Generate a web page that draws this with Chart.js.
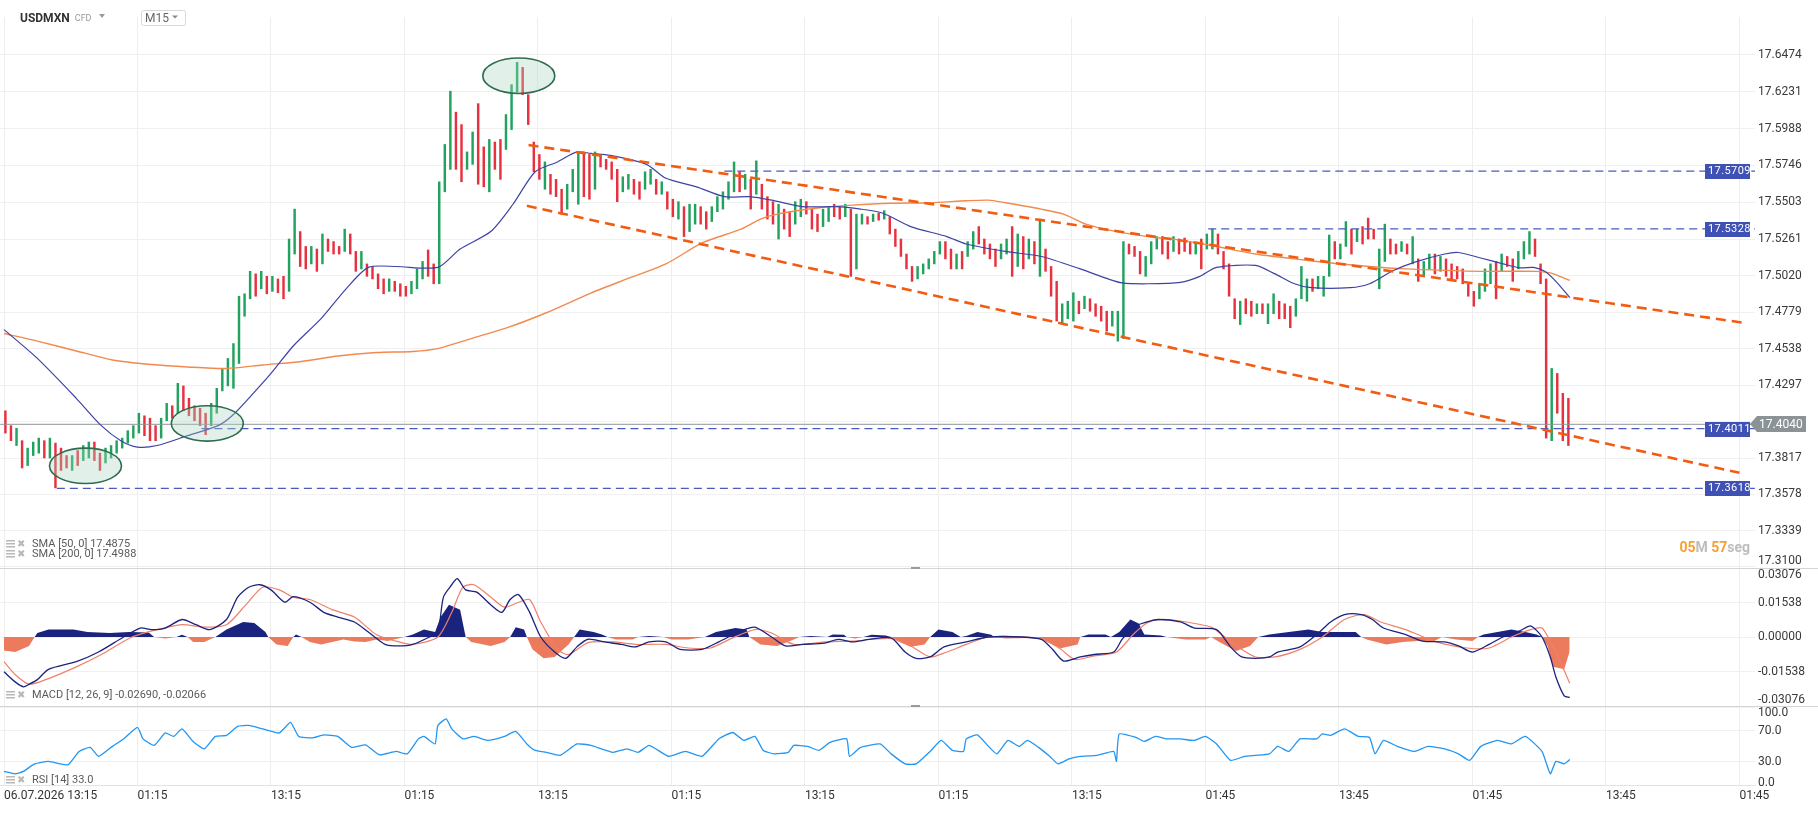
<!DOCTYPE html>
<html>
<head>
<meta charset="utf-8">
<title>USDMXN M15</title>
<script src="https://cdn.jsdelivr.net/npm/chart.js@4.4.1/dist/chart.umd.min.js"></script>
<style>
  html, body { margin: 0; padding: 0; background: #fff; }
  #wrap { width: 1818px; height: 813px; }
</style>
</head>
<body>
<div id="wrap"><canvas id="chart"></canvas></div>
<script>
// x axis: index of 15 min bars, one tick every 12 hours
const tickIndex = [0, 48, 96, 144, 192, 240, 288, 336, 384, 432, 480, 528, 576, 624];
const tickLabels = ['06.07.2026 13:15', '01:15', '13:15', '01:15', '13:15', '01:15', '13:15',
  '01:15', '13:15', '01:45', '13:45', '01:45', '13:45', '01:45'];

const priceTicks = [17.3100, 17.3339, 17.3578, 17.3817, 17.4056, 17.4297, 17.4538, 17.4779,
  17.5020, 17.5261, 17.5503, 17.5746, 17.5988, 17.6231, 17.6474];
const macdTicks = [-0.03076, -0.01538, 0, 0.01538, 0.03076];
const rsiTicks = [0, 30, 70, 100];

// 30 min bars (high / low / up), bar k sits at index 2k
const barHigh = [
  17.4129,17.4031,17.4014,17.3932,17.3883,17.3923,17.3949,17.3932,17.3949,17.3916,
  17.3883,17.3834,17.3834,17.3867,17.3900,17.3923,17.3923,17.3850,17.3883,17.3900,
  17.3932,17.3949,17.3998,17.4031,17.4113,17.4096,17.4080,17.4031,17.4080,17.4178,
  17.4162,17.4310,17.4293,17.4211,17.4162,17.4146,17.4113,17.4178,17.4277,17.4408,
  17.4474,17.4572,17.4884,17.4900,17.5048,17.5031,17.5048,17.5015,17.5015,17.4998,
  17.5015,17.5261,17.5458,17.5310,17.5212,17.5212,17.5195,17.5294,17.5261,17.5244,
  17.5212,17.5326,17.5294,17.5179,17.5179,17.5097,17.5080,17.5031,17.4998,17.4998,
  17.4982,17.4966,17.4949,17.4982,17.5064,17.5113,17.5189,17.5097,17.5638,17.5884,
  17.6235,17.6097,17.6015,17.5835,17.5966,17.6153,17.5868,17.5917,17.5900,17.5917,
  17.6081,17.6278,17.6425,17.6392,17.6212,17.5900,17.5818,17.5769,17.5687,17.5654,
  17.5589,17.5622,17.5720,17.5835,17.5835,17.5818,17.5835,17.5818,17.5786,17.5769,
  17.5720,17.5671,17.5687,17.5654,17.5638,17.5704,17.5720,17.5654,17.5638,17.5572,
  17.5523,17.5507,17.5474,17.5490,17.5490,17.5474,17.5441,17.5474,17.5540,17.5572,
  17.5638,17.5769,17.5704,17.5687,17.5654,17.5776,17.5622,17.5540,17.5507,17.5490,
  17.5458,17.5441,17.5507,17.5523,17.5507,17.5458,17.5425,17.5458,17.5474,17.5490,
  17.5474,17.5490,17.5458,17.5425,17.5425,17.5408,17.5425,17.5431,17.5448,17.5408,
  17.5326,17.5261,17.5162,17.5080,17.5080,17.5097,17.5130,17.5179,17.5244,17.5244,
  17.5195,17.5162,17.5179,17.5244,17.5310,17.5343,17.5261,17.5228,17.5195,17.5228,
  17.5261,17.5343,17.5294,17.5277,17.5261,17.5244,17.5392,17.5195,17.5080,17.4982,
  17.4834,17.4851,17.4907,17.4851,17.4884,17.4867,17.4834,17.4818,17.4785,17.4785,
  17.4785,17.5244,17.5228,17.5212,17.5179,17.5146,17.5244,17.5277,17.5277,17.5244,
  17.5277,17.5261,17.5267,17.5244,17.5228,17.5261,17.5294,17.5326,17.5294,17.5179,
  17.5097,17.4867,17.4851,17.4867,17.4851,17.4834,17.4834,17.4834,17.4900,17.4851,
  17.4834,17.4818,17.4867,17.5080,17.4998,17.4998,17.5015,17.5015,17.5287,17.5244,
  17.5228,17.5376,17.5326,17.5326,17.5343,17.5399,17.5326,17.5195,17.5359,17.5261,
  17.5228,17.5244,17.5228,17.5277,17.5130,17.5113,17.5162,17.5162,17.5146,17.5130,
  17.5097,17.5080,17.5064,17.4966,17.4916,17.4966,17.5064,17.5097,17.5113,17.5162,
  17.5146,17.5130,17.5179,17.5244,17.5310,17.5261,17.5097,17.4998,17.4408,17.4375,
  17.4244,17.4211
];
const barLow = [
  17.3982,17.3932,17.3900,17.3752,17.3768,17.3834,17.3850,17.3818,17.3818,17.3621,
  17.3736,17.3752,17.3736,17.3768,17.3801,17.3818,17.3801,17.3736,17.3785,17.3818,
  17.3850,17.3883,17.3916,17.3949,17.3982,17.3965,17.3932,17.3932,17.3949,17.4064,
  17.4080,17.4113,17.4129,17.4096,17.4064,17.4031,17.3972,17.4031,17.4113,17.4260,
  17.4293,17.4277,17.4441,17.4752,17.4867,17.4884,17.4933,17.4900,17.4916,17.4907,
  17.4867,17.4916,17.5162,17.5080,17.5064,17.5097,17.5048,17.5097,17.5179,17.5162,
  17.5162,17.5179,17.5162,17.5048,17.5064,17.5015,17.4998,17.4933,17.4900,17.4916,
  17.4916,17.4884,17.4884,17.4900,17.4933,17.4998,17.5015,17.4966,17.4966,17.5572,
  17.5720,17.5720,17.5638,17.5720,17.5753,17.5622,17.5605,17.5572,17.5720,17.5654,
  17.5851,17.5982,17.6228,17.6212,17.6015,17.5704,17.5654,17.5589,17.5556,17.5540,
  17.5425,17.5458,17.5572,17.5490,17.5540,17.5523,17.5589,17.5736,17.5720,17.5654,
  17.5507,17.5572,17.5589,17.5556,17.5523,17.5589,17.5622,17.5556,17.5556,17.5458,
  17.5408,17.5392,17.5277,17.5310,17.5359,17.5359,17.5326,17.5376,17.5441,17.5458,
  17.5523,17.5572,17.5572,17.5589,17.5458,17.5556,17.5458,17.5392,17.5359,17.5261,
  17.5326,17.5277,17.5359,17.5408,17.5425,17.5326,17.5310,17.5343,17.5376,17.5408,
  17.5392,17.5408,17.5015,17.5064,17.5359,17.5359,17.5376,17.5385,17.5392,17.5294,
  17.5212,17.5146,17.5064,17.4982,17.4998,17.5031,17.5064,17.5097,17.5162,17.5130,
  17.5064,17.5064,17.5064,17.5146,17.5195,17.5228,17.5162,17.5130,17.5080,17.5130,
  17.5162,17.5015,17.5080,17.5064,17.5130,17.5097,17.5015,17.5048,17.4884,17.4720,
  17.4703,17.4736,17.4720,17.4769,17.4802,17.4785,17.4752,17.4720,17.4654,17.4687,
  17.4588,17.4605,17.5162,17.5146,17.5031,17.5015,17.5097,17.5195,17.5162,17.5130,
  17.5179,17.5162,17.5179,17.5162,17.5162,17.5064,17.5195,17.5195,17.5162,17.5064,
  17.4884,17.4736,17.4697,17.4769,17.4752,17.4769,17.4769,17.4703,17.4769,17.4736,
  17.4736,17.4677,17.4752,17.4867,17.4851,17.4916,17.4933,17.4884,17.5015,17.5130,
  17.5130,17.5212,17.5162,17.5244,17.5228,17.5261,17.5261,17.4933,17.5113,17.5162,
  17.5162,17.5179,17.5162,17.5097,17.4982,17.5015,17.5064,17.5031,17.5048,17.5015,
  17.4998,17.4998,17.4966,17.4884,17.4818,17.4867,17.4916,17.4966,17.4867,17.5048,
  17.5080,17.4982,17.5064,17.5130,17.5162,17.5146,17.4966,17.3949,17.3932,17.4113,
  17.3932,17.3900
];
const barUp = [
  0,0,1,0,1,1,1,0,1,0, 0,0,1,0,1,1,0,0,1,1, 1,1,1,1,1,0,0,0,1,1, 0,1,0,0,0,0,0,1,1,1,
  1,1,1,1,1,0,1,0,1,0, 0,1,1,0,0,1,0,1,0,0, 0,1,0,0,1,0,0,0,0,1, 0,0,0,1,1,1,0,0,1,1,
  1,0,0,1,1,0,0,1,0,0, 1,1,1,0,0,0,0,1,0,0, 0,1,1,1,0,0,1,0,0,0, 0,1,1,0,0,1,1,0,1,0,
  0,1,0,1,1,0,0,1,1,1, 1,1,0,1,0,1,0,0,0,1, 0,0,1,1,0,0,0,1,1,0, 0,1,0,1,1,0,1,0,1,0,
  0,0,0,0,1,1,1,1,1,0, 0,1,0,1,1,0,0,0,0,1, 1,0,1,0,1,0,1,0,0,0, 1,1,1,0,1,0,0,0,0,1,
  1,1,0,0,0,1,1,1,0,0, 1,0,0,0,1,0,1,1,0,0, 0,0,1,0,0,1,0,1,1,0, 0,0,1,1,1,0,1,1,1,0,
  1,1,0,1,0,0,0,1,1,0, 0,1,0,1,0,1,1,0,1,0, 0,0,0,0,0,1,1,1,0,1, 0,0,1,1,1,0,0,0,1,0,
  0,0
];
const lastPrice = 17.4040;

// indicators, [bar index, value]
const sma50 = [[0,17.4664],[12,17.4474],[26,17.4211],[35,17.4031],[42,17.3932],[48,17.3890],[55,17.3900],
  [66,17.3965],[77,17.4031],[82,17.4096],[88,17.4211],[96,17.4375],[104,17.4556],[114,17.4736],
  [123,17.4933],[131,17.5074],[141,17.5080],[156,17.5074],[164,17.5195],[175,17.5310],[183,17.5490],
  [191,17.5704],[199,17.5769],[206,17.5835],[211,17.5825],[218,17.5812],[231,17.5753],[238,17.5661],
  [249,17.5605],[259,17.5540],[268,17.5540],[276,17.5517],[287,17.5474],[299,17.5474],[308,17.5458],
  [316,17.5431],[326,17.5343],[339,17.5277],[346,17.5228],[360,17.5179],[373,17.5146],[387,17.5064],
  [397,17.4998],[402,17.4972],[411,17.4966],[423,17.4975],[430,17.5015],[436,17.5074],[450,17.5087],
  [457,17.5031],[464,17.4966],[470,17.4940],[484,17.4940],[491,17.4966],[499,17.5048],[507,17.5107],
  [518,17.5162],[523,17.5172],[531,17.5136],[539,17.5097],[545,17.5071],[550,17.5074],[554,17.5048],
  [558,17.4982],[563,17.4875]];
const sma200 = [[0,17.4638],[12,17.4588],[26,17.4523],[39,17.4464],[53,17.4434],[66,17.4418],[80,17.4408],
  [93,17.4431],[107,17.4454],[120,17.4490],[134,17.4513],[147,17.4520],[156,17.4539],[168,17.4605],
  [181,17.4677],[195,17.4775],[211,17.4905],[224,17.4998],[238,17.5097],[251,17.5235],[265,17.5326],
  [272,17.5392],[278,17.5425],[292,17.5464],[305,17.5484],[319,17.5497],[333,17.5500],[346,17.5513],
  [354,17.5517],[360,17.5500],[373,17.5458],[381,17.5425],[389,17.5359],[400,17.5310],[414,17.5271],
  [423,17.5254],[436,17.5212],[450,17.5162],[464,17.5130],[477,17.5103],[491,17.5080],[504,17.5064],
  [518,17.5054],[531,17.5048],[551,17.5048],[556,17.5038],[558,17.5025],[563,17.4988]];

const macdLine = [[0,-0.0155],[4,-0.0200],[7,-0.0222],[9,-0.0211],[12,-0.0190],[16,-0.0144],[26,-0.0110],
  [34,-0.0067],[43,0],[49,0.0040],[53,0.0033],[58,0.0040],[64,0.0078],[69,0.0055],[74,0.0033],[80,0.0078],
  [84,0.0178],[88,0.0222],[92,0.0233],[96,0.0210],[101,0.0155],[104,0.0180],[110,0.0155],[115,0.0110],
  [120,0.0089],[126,0.0067],[131,0.0022],[137,-0.0033],[142,-0.0040],[147,-0.0033],[153,0],[156,0.0022],
  [158,0.0178],[161,0.0233],[163,0.0260],[166,0.0210],[170,0.0200],[175,0.0144],[179,0.0110],[182,0.0167],
  [185,0.0189],[189,0.0110],[193,0],[198,-0.0067],[202,-0.0095],[206,-0.0044],[210,-0.0010],[216,-0.0022],
  [222,-0.0033],[227,-0.0044],[232,-0.0022],[238,-0.0022],[243,-0.0055],[251,-0.0055],[257,-0.0022],
  [265,0.0027],[270,0.0044],[276,0],[281,-0.0040],[287,-0.0033],[295,-0.0027],[300,-0.0011],[305,-0.0022],
  [311,-0.0011],[319,-0.0004],[324,-0.0067],[328,-0.0095],[333,-0.0089],[338,-0.0044],[346,-0.0022],
  [354,0],[366,0],[373,-0.0011],[377,-0.0055],[381,-0.0107],[387,-0.0089],[392,-0.0078],[399,-0.0067],
  [402,-0.0011],[406,0.0044],[411,0.0067],[415,0.0078],[423,0.0067],[428,0.0040],[436,0.0033],
  [441,-0.0044],[445,-0.0089],[450,-0.0095],[455,-0.0089],[458,-0.0067],[466,-0.0044],[473,0.0022],
  [477,0.0067],[482,0.0100],[488,0.0100],[492,0.0078],[496,0.0040],[504,0.0011],[510,-0.0018],
  [518,-0.0022],[523,-0.0040],[528,-0.0067],[534,-0.0033],[539,0],[545,0.0027],[549,0.0049],[553,0],
  [556,-0.0089],[558,-0.0178],[561,-0.0262],[563,-0.0269]];
const macdSignal = [[0,-0.0110],[4,-0.0167],[9,-0.0210],[15,-0.0190],[26,-0.0133],[35,-0.0078],[46,0],
  [55,0.0033],[64,0.0055],[72,0.0044],[80,0.0055],[87,0.0144],[93,0.0222],[99,0.0210],[104,0.0178],
  [110,0.0167],[118,0.0122],[126,0.0089],[134,0.0010],[142,-0.0022],[147,-0.0033],[156,0],[161,0.0110],
  [165,0.0222],[169,0.0233],[175,0.0178],[180,0.0133],[185,0.0155],[189,0.0167],[193,0.0067],
  [199,-0.0055],[203,-0.0078],[210,-0.0025],[219,-0.0022],[227,-0.0033],[238,-0.0033],[246,-0.0049],
  [254,-0.0049],[262,-0.0004],[270,0.0033],[276,0.0018],[284,-0.0033],[295,-0.0022],[305,-0.0018],
  [319,-0.0007],[326,-0.0040],[333,-0.0089],[339,-0.0067],[346,-0.0033],[354,0],[373,-0.0007],
  [380,-0.0055],[385,-0.0100],[392,-0.0084],[400,-0.0067],[406,0.0011],[411,0.0062],[416,0.0078],
  [423,0.0071],[434,0.0044],[439,0],[445,-0.0055],[450,-0.0089],[457,-0.0089],[466,-0.0055],[474,0],
  [482,0.0078],[489,0.0100],[495,0.0067],[504,0.0033],[515,-0.0022],[526,-0.0049],[534,-0.0049],[542,0],
  [549,0.0033],[553,0.0040],[557,-0.0044],[560,-0.0122],[563,-0.02066]];
const macdHist = [[0,-0.0060],[4,-0.0067],[9,-0.0040],[11,0],[12,0.0018],[16,0.0033],[25,0.0033],[30,0.0022],
  [38,0.0018],[45,0.0022],[52,0.0020],[54,0],[58,-0.0007],[62,0],[64,0.0010],[66,0],[68,-0.0022],
  [72,-0.0022],[76,0],[80,0.0033],[86,0.0067],[90,0.0062],[94,0.0022],[95,0],[98,-0.0033],[102,-0.0040],
  [104,0],[105,0.0011],[107,0],[110,-0.0022],[114,-0.0033],[118,-0.0022],[122,-0.0011],[126,-0.0020],
  [130,-0.0022],[134,-0.0011],[138,-0.0018],[144,0],[147,0.0011],[151,0.0033],[155,0.0022],[157,0.0089],
  [160,0.0144],[164,0.0122],[166,0],[168,-0.0022],[175,-0.0040],[180,-0.0022],[182,0],[184,0.0044],
  [187,0.0033],[188,0],[190,-0.0055],[194,-0.0095],[198,-0.0089],[203,-0.0033],[205,0],[207,0.0033],
  [212,0.0022],[215,0.0011],[217,0],[220,-0.0011],[226,-0.0011],[228,0],[232,0.0004],[237,0],
  [240,-0.0011],[246,-0.0011],[252,0],[256,0.0022],[263,0.0040],[267,0.0033],[268,0],[272,-0.0033],
  [278,-0.0040],[284,-0.0011],[286,0],[290,0.0004],[296,0],[298,0.0011],[302,0.0010],[303,0],
  [306,-0.0007],[309,0],[312,0.0010],[317,0.0007],[319,0],[322,-0.0022],[326,-0.0044],[331,-0.0033],
  [333,0],[336,0.0033],[341,0.0022],[344,0],[346,0.0004],[350,0.0022],[355,0.0010],[356,0],
  [360,-0.0007],[368,-0.0004],[371,0],[373,-0.0011],[380,-0.0050],[386,-0.0033],[387,0],[390,0.0011],
  [396,0.0011],[398,0],[401,0.0022],[405,0.0078],[408,0.0060],[410,0.0011],[416,0.0007],[418,0],
  [422,-0.0007],[425,-0.0011],[432,-0.0011],[434,0],[437,-0.0022],[443,-0.0062],[448,-0.0040],[451,0],
  [455,0.0011],[462,0.0022],[469,0.0033],[474,0.0022],[486,0.0022],[488,0],[490,-0.0011],[497,-0.0033],
  [503,-0.0022],[508,-0.0018],[514,-0.0020],[517,0],[522,-0.0011],[528,-0.0018],[530,0],[532,0.0011],
  [537,0.0022],[542,0.0033],[547,0.0022],[551,0.0011],[553,0],[555,-0.0040],[557,-0.0133],[561,-0.0144],
  [563,-0.0062]];

const rsi = [[0,17.7],[4,14.5],[7,17.7],[11,27.4],[16,30.6],[23,26.1],[27,43.5],[31,48.7],[34,37.1],[39,50],
  [43,59.7],[48,74.5],[50,59.7],[54,51.3],[58,67.4],[61,62.9],[64,72.6],[68,56.4],[72,46.8],[76,62.9],
  [80,64.2],[84,75.8],[88,77.1],[93,72.6],[99,67.4],[103,81],[106,62.9],[111,61],[115,64.8],[120,62.9],
  [125,48.7],[130,51.9],[135,39],[141,43.5],[145,40.3],[149,59.7],[151,62.9],[155,53.2],[156,77.1],
  [159,85.5],[161,72.6],[165,59.7],[169,62.9],[174,57.7],[180,62.9],[184,69.3],[188,53.2],[191,44.8],
  [195,42.3],[200,38.4],[206,53.2],[211,51.3],[219,42.3],[224,46.8],[228,42.3],[232,51.3],[239,37.1],
  [245,43.5],[251,37.1],[257,59.7],[262,68],[266,57.7],[270,62.9],[273,44.8],[277,40.3],[282,42.3],
  [284,51.3],[289,50],[293,44.8],[297,55.2],[303,59.7],[304,37.1],[308,48.7],[315,53.2],[319,40.3],
  [324,27.4],[328,27.4],[333,43.5],[337,57.7],[341,44.8],[345,43.5],[346,59.7],[350,64.8],[354,50],
  [357,40.3],[361,57.7],[365,50],[368,57.7],[372,48.7],[376,37.1],[379,27.4],[383,33.9],[387,37.1],
  [393,38.4],[399,43.5],[400,30.6],[401,66.1],[407,61.6],[410,56.4],[414,62.9],[418,59.7],[423,59.7],
  [428,57.7],[432,62.9],[436,53.2],[441,31.9],[446,37.1],[450,38.4],[455,40.3],[458,50],[462,43.5],
  [466,59.7],[472,59.7],[474,66.1],[477,64.2],[482,72.6],[487,62.9],[491,61.6],[493,40.3],[496,57.7],
  [501,50],[507,43.5],[512,50],[518,46.8],[523,40.3],[527,31.9],[531,50],[537,57.7],[542,53.2],
  [547,62.9],[553,43.5],[556,14.5],[558,30.6],[561,27.4],[563,33.0]];

// drawings on the price pane
const upperTrend = [[188.6, 17.588], [625, 17.471]];
const lowerTrend = [[188, 17.548], [624, 17.372]];
const levelValues = [17.5709, 17.5328, 17.4011, 17.3618];
const levelFrom = [259, 433, 71, 19];
const ellipses = [[29.3, 17.3766], [73.1, 17.4046], [185.1, 17.6337]];

Chart.defaults.font.family = 'Roboto';
Chart.defaults.font.size = 12;

const XMIN = -1.4, XMAX = 629.6;
const pts = arr => arr.map(([x, y]) => ({ x, y }));
const line = (arr, color, width, extra) => Object.assign({
  type: 'line', data: pts(arr), borderColor: color, borderWidth: width,
  pointRadius: 0, fill: false, tension: 0.25
}, extra);

const datasets = [
  line(upperTrend, '#f25c12', 2.6, { yAxisID: 'price', borderDash: [10, 6], tension: 0, order: 0 }),
  line(lowerTrend, '#f25c12', 2.6, { yAxisID: 'price', borderDash: [10, 6], tension: 0, order: 0 }),
  line(sma50, '#3d43a6', 1.2, { yAxisID: 'price', order: 1 }),
  line(sma200, '#f28a4f', 1.4, { yAxisID: 'price', order: 1 }),
  ...levelValues.map((v, j) => line([[levelFrom[j], v], [XMAX, v]], '#4a5bbd', 1.2,
    { yAxisID: 'price', borderDash: [8, 5], tension: 0, order: 2 })),
  line([[XMIN, lastPrice], [XMAX, lastPrice]], '#8f9598', 1, { yAxisID: 'price', tension: 0, order: 2 }),
  {
    type: 'bar',
    data: barHigh.map((h, k) => ({ x: 2 * k + 0.5, y: [barLow[k], h] })),
    backgroundColor: barUp.map(u => u ? '#21a35f' : '#e8313f'),
    barThickness: 1.8,
    yAxisID: 'price',
    order: 3
  },
  line(macdHist, 'rgba(0,0,0,0)', 0, {
    yAxisID: 'macd', tension: 0, order: 4,
    fill: { target: { value: 0 }, above: '#1a237e', below: '#ec7a5c' }
  }),
  line(macdLine, '#1a237e', 1.3, { yAxisID: 'macd', order: 3 }),
  line(macdSignal, '#f0806a', 1.2, { yAxisID: 'macd', order: 3 }),
  line(rsi, '#2196f3', 1.3, { yAxisID: 'rsi', tension: 0.15, order: 3 })
];

// labels that sit on a pane edge are drawn by the overlay, shifted inside the pane
const yAxis = (ticks, min, max, weight, digits, edges) => ({
  type: 'linear', position: 'right', stack: 'panes', stackWeight: weight,
  min, max, bounds: 'data', beginAtZero: false,
  afterBuildTicks: s => { s.ticks = ticks.map(v => ({ value: v })); },
  afterFit: s => { s.width = 63; },
  ticks: {
    autoSkip: false, padding: 3, color: '#3a3a3a',
    callback: (v, i) => edges.includes(i) ? '' : v.toFixed(digits)
  },
  grid: { color: '#f0f0f0', drawTicks: false },
  border: { display: false }
});

const overlay = {
  id: 'overlay',
  afterDatasetsDraw(chart) {
    const { ctx, scales: { x, price } } = chart;
    ctx.save();
    ellipses.forEach(([i, v]) => {
      ctx.beginPath();
      ctx.ellipse(x.getPixelForValue(i), price.getPixelForValue(v), 36, 17.7, 0, 0, Math.PI * 2);
      ctx.fillStyle = 'rgba(170, 212, 190, 0.35)';
      ctx.fill();
      ctx.lineWidth = 1.6;
      ctx.strokeStyle = '#2f6b50';
      ctx.stroke();
    });
    ctx.restore();
  },
  afterDraw(chart) {
    const { ctx, chartArea, scales: { price, macd, rsi: rsiScale } } = chart;
    const right = chartArea.right;
    ctx.save();

    // pane separators and drag handles
    ctx.strokeStyle = '#d4d4d4';
    ctx.lineWidth = 1;
    [macd.top, rsiScale.top].forEach(y => {
      const yy = Math.round(y) + 0.5;
      ctx.beginPath(); ctx.moveTo(0, yy); ctx.lineTo(chart.width, yy); ctx.stroke();
      ctx.fillStyle = '#9a9a9a';
      ctx.fillRect(911, Math.round(y) - 1, 9, 2);
    });

    // axis labels at the pane edges, pushed inside
    ctx.font = '12px Roboto';
    ctx.fillStyle = '#3a3a3a';
    ctx.textBaseline = 'middle';
    ctx.textAlign = 'left';
    const lx = right + 3;
    ctx.fillText(priceTicks[0].toFixed(4), lx, price.bottom - 7);
    ctx.fillText(macdTicks[macdTicks.length - 1].toFixed(5), lx, macd.top + 7);
    ctx.fillText(macdTicks[0].toFixed(5), lx, macd.bottom - 6);
    ctx.fillText(rsiTicks[rsiTicks.length - 1].toFixed(1), lx, rsiScale.top + 7);
    ctx.fillText(rsiTicks[0].toFixed(1), lx, rsiScale.bottom - 2);

    // level tags
    levelValues.forEach(v => {
      const y = Math.round(price.getPixelForValue(v));
      ctx.fillStyle = '#3f51b5';
      ctx.fillRect(right - 50, y - 7, 45, 15);
      ctx.fillStyle = '#fff';
      ctx.font = '11px Roboto';
      ctx.letterSpacing = '0.4px';
      ctx.fillText(v.toFixed(4), right - 47, y + 0.5);
    });
    ctx.letterSpacing = '0px';

    // last price tag
    const gy = Math.round(price.getPixelForValue(lastPrice));
    const gx = right - 5;
    ctx.fillStyle = '#8c9396';
    ctx.beginPath();
    ctx.moveTo(gx, gy); ctx.lineTo(gx + 7, gy - 8); ctx.lineTo(gx + 56, gy - 8);
    ctx.lineTo(gx + 56, gy + 8); ctx.lineTo(gx + 7, gy + 8); ctx.closePath();
    ctx.fill();
    ctx.fillStyle = '#fff';
    ctx.font = '12px Roboto';
    ctx.fillText(lastPrice.toFixed(4), gx + 9, gy + 0.5);

    // bar countdown
    const parts = [['05', '#f5a030'], ['M', '#bdbdbd'], [' 57', '#f5a030'], ['seg', '#bdbdbd']];
    ctx.font = 'bold 14px Roboto';
    let tx = right - 5 - parts.reduce((s, p) => s + ctx.measureText(p[0]).width, 0);
    parts.forEach(([t, c]) => { ctx.fillStyle = c; ctx.fillText(t, tx, price.bottom - 20); tx += ctx.measureText(t).width; });

    // indicator captions
    const caption = (txt, y) => {
      ctx.fillStyle = '#b8b8b8';
      ctx.fillRect(6, y - 4, 9, 1.5); ctx.fillRect(6, y - 1, 9, 1.5); ctx.fillRect(6, y + 2, 9, 1.5);
      ctx.font = '10px "DejaVu Sans"';
      ctx.fillText('\u2716', 17, y);
      ctx.fillStyle = '#5a5a5a';
      ctx.font = '11px Roboto';
      ctx.fillText(txt, 32, y);
    };
    const last = a => a[a.length - 1][1];
    caption(`SMA [50, 0] ${last(sma50).toFixed(4)}`, price.bottom - 24);
    caption(`SMA [200, 0] ${last(sma200).toFixed(4)}`, price.bottom - 14);
    caption(`MACD [12, 26, 9] ${last(macdLine).toFixed(5)}, ${last(macdSignal).toFixed(5)}`, macd.bottom - 11);
    caption(`RSI [14] ${last(rsi).toFixed(1)}`, rsiScale.bottom - 5);

    // header
    ctx.textBaseline = 'alphabetic';
    ctx.fillStyle = '#333';
    ctx.font = 'bold 12px Roboto';
    ctx.fillText('USDMXN', 20, 22);
    const cfdX = 20 + ctx.measureText('USDMXN').width + 5;
    ctx.fillStyle = '#9a9a9a';
    ctx.font = '9px Roboto';
    ctx.fillText('CFD', cfdX, 21);
    ctx.beginPath(); ctx.moveTo(99, 14); ctx.lineTo(105, 14); ctx.lineTo(102, 18); ctx.closePath(); ctx.fill();
    ctx.strokeStyle = '#d8d8d8';
    ctx.beginPath(); ctx.roundRect(141.5, 10.5, 44, 15, 2); ctx.stroke();
    ctx.fillStyle = '#666';
    ctx.font = '12px Roboto';
    ctx.fillText('M15', 145, 22);
    ctx.fillStyle = '#888';
    ctx.beginPath(); ctx.moveTo(172, 15.5); ctx.lineTo(178, 15.5); ctx.lineTo(175, 18.5); ctx.closePath(); ctx.fill();

    ctx.restore();
  }
};

new Chart(document.getElementById('chart'), {
  type: 'line',
  data: { datasets },
  options: {
    responsive: true,
    maintainAspectRatio: false,
    animation: false,
    events: [],
    layout: { padding: { top: 17, left: 0, right: 0, bottom: 0 } },
    plugins: { legend: { display: false }, tooltip: { enabled: false } },
    scales: {
      x: {
        type: 'linear', min: XMIN, max: XMAX, offset: false,
        afterBuildTicks: s => { s.ticks = tickIndex.map(v => ({ value: v })); },
        afterFit: s => { s.height = 28; },
        ticks: {
          align: 'start', maxRotation: 0, autoSkip: false, padding: 4, color: '#333',
          callback: (v, i) => tickLabels[i]
        },
        grid: { color: '#eeeeee', drawTicks: false, offset: false },
        border: { display: true, color: '#e3e3e3' }
      },
      price: yAxis(priceTicks, 17.3093, 17.6724, 551, 4, [0]),
      macd: yAxis(macdTicks, -0.03076, 0.03076, 138, 5, [0, macdTicks.length - 1]),
      rsi: yAxis(rsiTicks, 0, 102.3, 79, 1, [0, rsiTicks.length - 1])
    }
  },
  plugins: [overlay]
});
</script>
</body>
</html>
